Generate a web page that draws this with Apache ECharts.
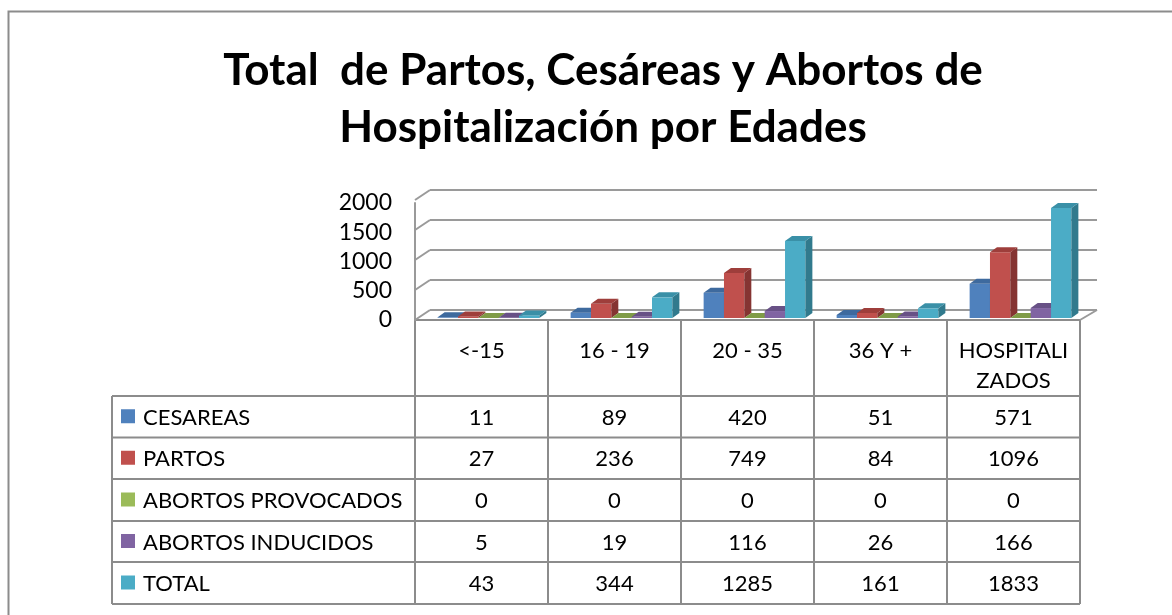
<!DOCTYPE html>
<html>
<head>
<meta charset="utf-8">
<script src="https://cdn.jsdelivr.net/npm/echarts@6/dist/echarts.min.js"></script>
<style>
  html, body { margin: 0; padding: 0; background: #fff; }
  #chart { width: 1172px; height: 615px; }
</style>
</head>
<body>
<div id="chart"></div>
<script>
// data
const categories = ['<-15', '16 - 19', '20 - 35', '36 Y +', 'HOSPITALIZADOS']
const seriesNames = ['CESAREAS', 'PARTOS', 'ABORTOS PROVOCADOS', 'ABORTOS INDUCIDOS', 'TOTAL']
const cesareas = [11, 89, 420, 51, 571]
const partos = [27, 236, 749, 84, 1096]
const abortosProvocados = [0, 0, 0, 0, 0]
const abortosInducidos = [5, 19, 116, 26, 166]
const total = [43, 344, 1285, 161, 1833]
const yTicks = [0, 500, 1000, 1500, 2000]

const seriesValues = [cesareas, partos, abortosProvocados, abortosInducidos, total]
const colors = ['#4F81BD', '#C0504D', '#9BBB59', '#8064A2', '#4BACC6']
const topColors = ['#3E6A9E', '#9E3E3B', '#7F9B47', '#685186', '#3A90A7']
const sideColors = ['#345884', '#853432', '#6B833C', '#573F71', '#317A8D']

const W = 1172
const FONT = 'Lato, "Open Sans", sans-serif'
const TABLE_FONT = 22
const gridColor = '#9a9a9a'

// front plane (axis labels, table columns)
const front = { left: 415, right: W - 1080, top: 203, height: 117 }
// plane the bars stand on
const mid = { left: 422, right: 85, top: 198, height: 120 }
// back wall with gridlines
const back = { left: 430, right: 75, top: 190, height: 120 }
const depth = { dx: 15, dy: 10 }
const barDepth = { dx: 7, dy: 5 }

const band = (W - front.left - front.right) / categories.length
const colX = categories.map((c, i) => front.left + i * band).concat([front.left + categories.length * band])
const tableLeft = 112
const headerTop = front.top + front.height
const rowY = [396, 437.5, 479, 521, 562, 604]

function renderBar(params, api) {
  const idx = seriesNames.indexOf(params.seriesName)
  const cat = api.value(0)
  const base = api.coord([cat, 0])
  const top = api.coord([cat, api.value(1)])
  const bw = api.size([1, 0])[0] * 0.153
  const x0 = base[0] - bw * 2.5 + idx * bw
  const x1 = x0 + bw
  const dx = barDepth.dx, dy = barDepth.dy
  return {
    type: 'group',
    children: [
      { type: 'rect', shape: { x: x0, y: top[1], width: bw, height: base[1] - top[1] }, style: { fill: colors[idx] } },
      { type: 'polygon', shape: { points: [[x1, top[1]], [x1 + dx, top[1] - dy], [x1 + dx, base[1] - dy], [x1, base[1]]] }, style: { fill: sideColors[idx] } },
      { type: 'polygon', shape: { points: [[x0, top[1]], [x1, top[1]], [x1 + dx, top[1] - dy], [x0 + dx, top[1] - dy]] }, style: { fill: topColors[idx] } }
    ]
  }
}

function renderWall(params, api) {
  const cs = params.coordSys
  const y = api.coord([0, api.value(0)])[1]
  const lineStyle = { stroke: gridColor, lineWidth: 2 }
  const children = [
    { type: 'line', shape: { x1: cs.x, y1: y, x2: cs.x - depth.dx, y2: y + depth.dy }, style: lineStyle }
  ]
  if (api.value(0) === 0) {
    const xr = cs.x + cs.width
    children.push({ type: 'line', shape: { x1: xr, y1: y, x2: xr - depth.dx - 2, y2: y + depth.dy }, style: lineStyle })
  }
  return { type: 'group', children }
}

// data table drawn under the plot
const lineStyle = { stroke: '#8c8c8c', lineWidth: 2 }
const table = []
table.push({ type: 'line', shape: { x1: colX[0], y1: headerTop, x2: colX[colX.length - 1], y2: headerTop }, style: lineStyle })
colX.forEach(x => {
  table.push({ type: 'line', shape: { x1: x, y1: headerTop, x2: x, y2: rowY[rowY.length - 1] }, style: lineStyle })
})
table.push({ type: 'line', shape: { x1: tableLeft, y1: rowY[0], x2: tableLeft, y2: rowY[rowY.length - 1] }, style: lineStyle })
rowY.forEach(y => {
  table.push({ type: 'line', shape: { x1: tableLeft, y1: y, x2: colX[colX.length - 1], y2: y }, style: lineStyle })
})
categories.forEach((c, i) => {
  const label = c.length > 10 ? c.slice(0, 9) + '\n' + c.slice(9) : c
  table.push({
    type: 'text', x: colX[i] + band / 2, y: headerTop + 16,
    style: { text: label, fontSize: TABLE_FONT, fontFamily: FONT, fill: '#000', align: 'center', verticalAlign: 'top', lineHeight: 30 }
  })
})
seriesNames.forEach((name, r) => {
  const cy = (rowY[r] + rowY[r + 1]) / 2
  table.push({ type: 'rect', shape: { x: 121, y: cy - 7.5, width: 14, height: 14 }, style: { fill: colors[r] } })
  table.push({
    type: 'text', x: 143, y: cy + 1,
    style: { text: name, fontSize: TABLE_FONT, fontFamily: FONT, fill: '#000', align: 'left', verticalAlign: 'middle' }
  })
  seriesValues[r].forEach((v, i) => {
    table.push({
      type: 'text', x: colX[i] + band / 2, y: cy + 1,
      style: { text: String(v), fontSize: TABLE_FONT, fontFamily: FONT, fill: '#000', align: 'center', verticalAlign: 'middle' }
    })
  })
})
table.push({ type: 'rect', shape: { x: 8.5, y: 11.5, width: 1300, height: 700 }, style: { fill: 'none', stroke: '#8c8c8c', lineWidth: 2 } })

const chart = echarts.init(document.getElementById('chart'))
const valueAxis = (gridIndex, extra) => Object.assign({
  type: 'value', gridIndex, min: 0, max: 2000, interval: 500,
  axisLabel: { show: false }, axisTick: { show: false }, axisLine: { show: false }, splitLine: { show: false }
}, extra)
const catAxis = gridIndex => ({
  type: 'category', gridIndex, data: categories,
  axisLabel: { show: false }, axisTick: { show: false }, axisLine: { show: false }, splitLine: { show: false }
})

chart.setOption({
  animation: false,
  title: {
    text: 'Total  de Partos, Cesáreas y Abortos de\nHospitalización por Edades',
    left: 598, top: 37, textAlign: 'center',
    textStyle: { fontSize: 44, fontWeight: 'bold', fontFamily: FONT, color: '#000', lineHeight: 57 }
  },
  grid: [
    Object.assign({ containLabel: false }, back),
    Object.assign({ containLabel: false }, mid),
    Object.assign({ containLabel: false }, front)
  ],
  xAxis: [catAxis(0), catAxis(1), catAxis(2)],
  yAxis: [
    valueAxis(0, { splitLine: { show: true, lineStyle: { color: gridColor, width: 2 } } }),
    valueAxis(1),
    valueAxis(2, {
      axisLine: { show: true, lineStyle: { color: gridColor, width: 2 } },
      axisLabel: { show: true, fontSize: 23, fontFamily: FONT, color: '#000', margin: 23, formatter: v => String(v) }
    })
  ],
  series: seriesNames.map((name, s) => ({
    name, type: 'custom', xAxisIndex: 1, yAxisIndex: 1,
    renderItem: renderBar,
    data: categories.map((c, i) => [i, seriesValues[s][i]])
  })).concat([{
    name: 'wall', type: 'custom', xAxisIndex: 0, yAxisIndex: 0, z: 1,
    renderItem: renderWall,
    data: yTicks.map(v => [v])
  }]),
  graphic: table
})
</script>
</body>
</html>
